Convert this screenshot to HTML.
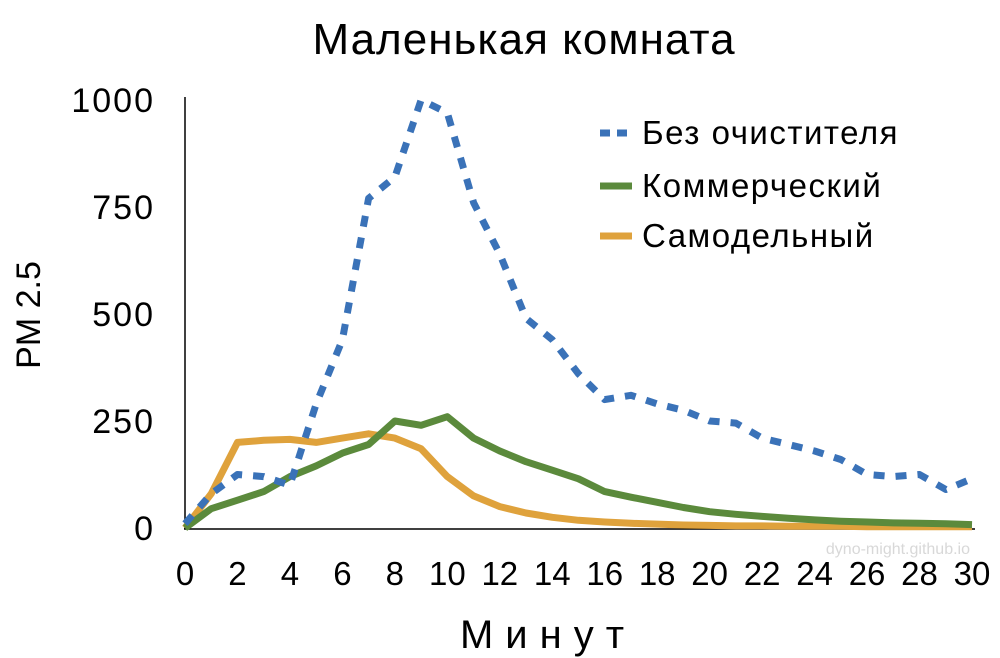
<!DOCTYPE html>
<html><head><meta charset="utf-8">
<style>
body{margin:0;background:#fff;}
svg{display:block;font-family:"Liberation Sans",sans-serif;}
</style></head><body>
<svg id="chart" width="1000" height="658">
<text x="524" y="54" font-size="44" text-anchor="middle" letter-spacing="1" fill="#000">Маленькая комната</text>
<text transform="translate(40,315) rotate(-90)" font-size="34" text-anchor="middle" fill="#000">PM 2.5</text>
<text x="548" y="648" font-size="40" text-anchor="middle" letter-spacing="12" fill="#000">Минут</text>
<text x="970" y="554" font-size="16" text-anchor="end" fill="#d8d8d8">dyno-might.github.io</text>
<g id="axes"></g>
<g id="series"></g>
<g>
<line x1="600" y1="133" x2="632" y2="133" stroke="#3a72b8" stroke-width="7" stroke-dasharray="10,7"/>
<text x="642" y="144" font-size="33" letter-spacing="1.5">Без очистителя</text>
<line x1="600" y1="186" x2="632" y2="186" stroke="#5b8a3c" stroke-width="7"/>
<text x="642" y="197" font-size="33" letter-spacing="1.5">Коммерческий</text>
<line x1="600" y1="236" x2="632" y2="236" stroke="#dfa23c" stroke-width="7"/>
<text x="642" y="247" font-size="33" letter-spacing="1.5">Самодельный</text>
</g>
</svg>
<script>
const minutes = [0,1,2,3,4,5,6,7,8,9,10,11,12,13,14,15,16,17,18,19,20,21,22,23,24,25,26,27,28,29,30];
const noPurifier = [10,80,125,120,100,290,440,770,820,1000,970,760,640,490,440,360,300,310,290,275,250,245,210,195,180,160,125,120,125,90,115];
const commercial = [0,45,65,85,120,145,175,195,250,240,260,210,180,155,135,115,85,72,60,48,38,32,27,23,19,16,14,12,11,10,8];
const homemade = [0,80,200,205,207,200,210,220,210,185,120,75,50,35,25,18,14,11,9,7,6,5,5,4,4,4,3,3,3,3,3];
const xTicks = [0,2,4,6,8,10,12,14,16,18,20,22,24,26,28,30];
const yTicks = [0,250,500,750,1000];
const NS='http://www.w3.org/2000/svg';
const xS = v => 185 + v*(972-185)/30;
const yS = v => 528 - v*(428/1000);
const axes=document.getElementById('axes');
function mk(tag,attrs,parent){const e=document.createElementNS(NS,tag);for(const k in attrs)e.setAttribute(k,attrs[k]);parent.appendChild(e);return e;}
let a=mk('line',{x1:185,y1:97,x2:185,y2:529,stroke:'#000','stroke-width':1.5},axes);


a=mk('line',{x1:184,y1:529,x2:975,y2:529,stroke:'#000','stroke-width':1.5},axes);


yTicks.forEach(t=>{const e=mk('text',{x:155,y:yS(t)+12,'font-size':34,'text-anchor':'end','letter-spacing':2},axes);e.textContent=t;

});
xTicks.forEach(t=>{const e=mk('text',{x:xS(t),y:585,'font-size':33,'text-anchor':'middle'},axes);e.textContent=t;

});
const ser=document.getElementById('series');
function line(vals,color,dash,name){const d=vals.map((v,i)=>(i?'L':'M')+xS(minutes[i]).toFixed(1)+','+yS(v).toFixed(1)).join(' ');
const p=mk('path',{d:d,fill:'none',stroke:color,'stroke-width':7,'stroke-linejoin':'round'},ser);
if(dash)p.setAttribute('stroke-dasharray',dash);

}
line(homemade,'#dfa23c',null,'series-homemade');
line(commercial,'#5b8a3c',null,'series-commercial');
line(noPurifier,'#3a72b8','11,11','series-no-purifier');
</script>
</body></html>
